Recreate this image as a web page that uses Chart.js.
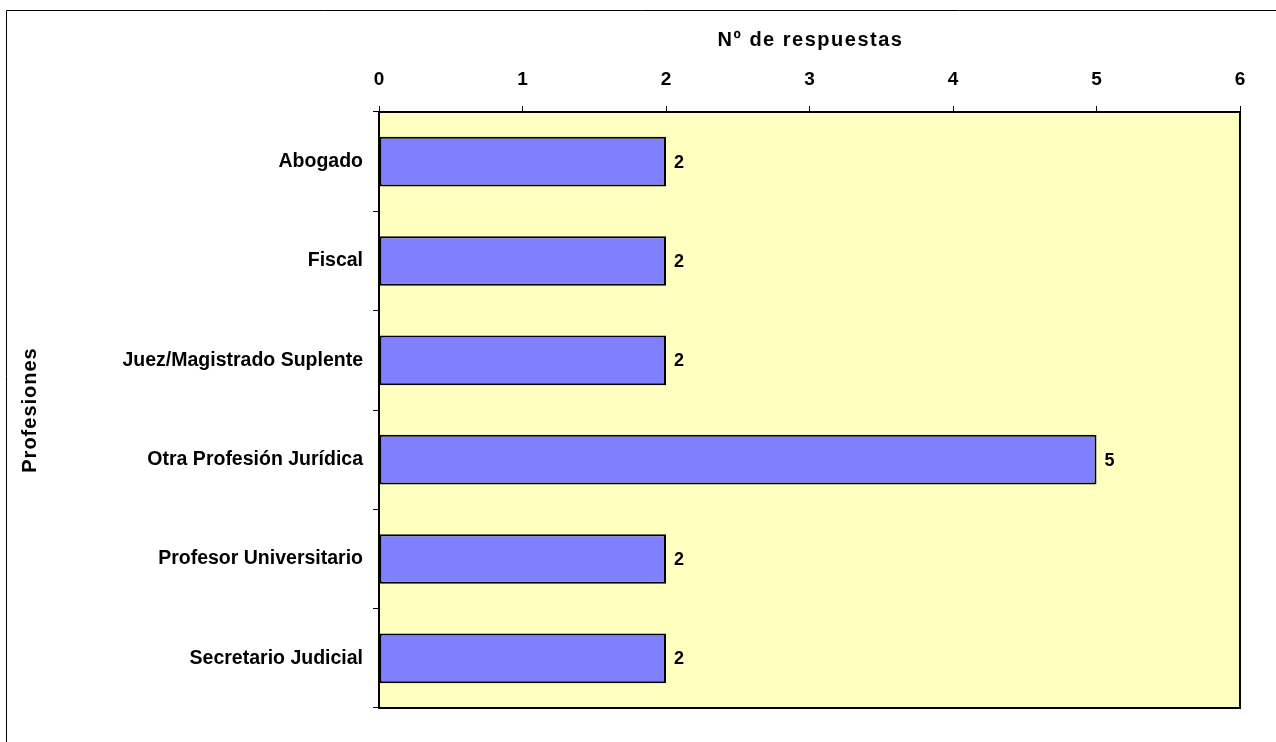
<!DOCTYPE html>
<html>
<head>
<meta charset="utf-8">
<script src="https://cdn.jsdelivr.net/npm/chart.js@4"></script>
<style>
  html, body { margin: 0; padding: 0; background: #fff; }
  #wrap { width: 1276px; height: 742px; }
</style>
</head>
<body>
<div id="wrap"><canvas id="profChart"></canvas></div>
<script>
// chart data
const categories = ['Abogado', 'Fiscal', 'Juez/Magistrado Suplente', 'Otra Profesión Jurídica', 'Profesor Universitario', 'Secretario Judicial'];
const respuestas = [2, 2, 2, 5, 2, 2];
const xTicks = [0, 1, 2, 3, 4, 5, 6];
const xTitle = 'Nº de respuestas';
const yTitle = 'Profesiones';

const FONT = "'Liberation Sans', Arial, sans-serif";

// yellow plot area + border, and the outer frame
const plotBg = {
  id: 'plotBg',
  beforeDraw(chart) {
    const c = chart.ctx, a = chart.chartArea;
    c.save();
    c.strokeStyle = '#000';
    c.lineWidth = 1;
    c.beginPath();
    c.moveTo(6.5, 742);
    c.lineTo(6.5, 10.5);
    c.lineTo(1276, 10.5);
    c.stroke();
    c.fillStyle = '#FFFFC0';
    c.fillRect(a.left, a.top, a.right - a.left, a.bottom - a.top);
    c.lineWidth = 2;
    c.strokeRect(a.left, a.top, a.right - a.left, a.bottom - a.top);
    c.restore();
  }
};

// value labels at the end of each bar + the two axis titles (spaced letters)
const barLabels = {
  id: 'barLabels',
  afterDraw(chart) {
    const c = chart.ctx, a = chart.chartArea;
    c.save();
    c.font = 'bold 18px ' + FONT;
    c.fillStyle = '#000';
    c.textBaseline = 'middle';
    chart.getDatasetMeta(0).data.forEach((bar, i) => {
      c.fillText(String(respuestas[i]), bar.x + 8, bar.y + 1);
    });
    c.font = 'bold 20px ' + FONT;
    c.letterSpacing = '1.5px';
    c.textAlign = 'center';
    c.fillText(xTitle, (a.left + a.right) / 2 + 1, 40);
    c.letterSpacing = '1px';
    c.translate(30, (a.top + a.bottom) / 2);
    c.rotate(-Math.PI / 2);
    c.fillText(yTitle, 0, 0);
    c.restore();
  }
};

const ctx = document.getElementById('profChart').getContext('2d');
const profChart = new Chart(ctx, {
  type: 'bar',
  data: {
    labels: categories,
    datasets: [{
      label: xTitle,
      data: respuestas,
      backgroundColor: '#8080FF',
      borderColor: '#000',
      borderWidth: 2,
      borderSkipped: false,
      barPercentage: 0.5,
      categoryPercentage: 1
    }]
  },
  options: {
    indexAxis: 'y',
    responsive: true,
    maintainAspectRatio: false,
    animation: false,
    layout: { padding: { left: 18, top: 20, right: 36, bottom: 34 } },
    plugins: { legend: { display: false }, tooltip: { enabled: false } },
    scales: {
      x: {
        position: 'top',
        min: 0,
        max: 6,
        afterBuildTicks: s => { s.ticks = xTicks.map(v => ({ value: v })); },
        afterFit: s => { s.height = 92; },
        ticks: { color: '#000', font: { family: FONT, size: 19, weight: 'bold' }, padding: 15 },
        grid: { drawOnChartArea: false, color: '#000', tickLength: 6, tickWidth: 1 },
        border: { color: '#000', width: 2 }
      },
      y: {
        afterFit: s => { s.width = 361; },
        ticks: { color: '#000', font: { family: FONT, size: 19.5, weight: 'bold' }, padding: 10 },
        grid: { drawOnChartArea: false, offset: true, color: '#000', tickLength: 6, tickWidth: 1 },
        border: { color: '#000', width: 2 }
      }
    }
  },
  plugins: [plotBg, barLabels]
});
</script>
</body>
</html>
